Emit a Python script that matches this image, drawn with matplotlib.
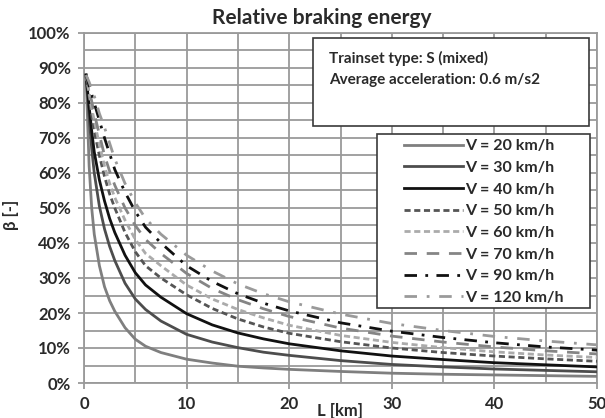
import matplotlib
matplotlib.use("Agg")
import matplotlib.pyplot as plt
from matplotlib.patches import Rectangle
from matplotlib.ticker import MultipleLocator, PercentFormatter

# ----------------------------------------------------------------------------------------------------------------------
# Data, beta in %
# ----------------------------------------------------------------------------------------------------------------------
distance_km = [0.2, 0.5, 0.75, 1, 1.5, 2, 2.5, 3, 4, 5, 6, 7.5, 10, 12.5, 15, 17.5, 20, 25, 30, 35, 40, 45, 50]

beta_v20 = [88, 62, 50, 42.5, 33.5, 27.5, 23.5, 20.5, 15.8, 12.5, 10.5, 8.7, 6.8, 5.7, 4.8, 4.3, 3.9,
            3.3, 2.8, 2.5, 2.3, 2.1, 1.9]
beta_v30 = [88, 76, 67, 60, 50.5, 44, 39, 35, 28.5, 24, 21, 17.7, 13.9, 11.7, 10.1, 8.8, 7.9,
            6.4, 5.3, 4.6, 4.0, 3.6, 3.2]
beta_v40 = [88, 79, 72, 66, 58, 52, 47, 43, 36.5, 31.5, 28, 24.5, 19.8, 16.6, 14.3, 12.6, 11.2,
            9.2, 7.7, 6.7, 5.8, 5.2, 4.6]
beta_v50 = [88, 82, 76.5, 72, 65, 59, 54, 50, 43, 37.5, 33.5, 30, 25.2, 21.3, 18.3, 16, 14.2,
            11.8, 10.0, 8.7, 7.7, 6.9, 6.2]
beta_v60 = [88, 83, 78.5, 75, 68, 62, 57, 53, 46.5, 41, 37, 33.5, 28, 24, 21, 18.6, 16.5,
            13.6, 11.6, 10.1, 8.9, 8.0, 7.3]
beta_v70 = [88, 84, 80.5, 77, 71, 65, 60.5, 56.5, 50, 45, 41, 37, 31.3, 27, 23.8, 21.2, 19,
            15.7, 13.4, 11.7, 10.3, 9.2, 8.3]
beta_v90 = [88, 85, 82.5, 80, 75, 70, 65.5, 61, 54.5, 49, 44.5, 40, 33.5, 29, 25.5, 22.8, 20.6,
            17.2, 14.8, 13, 11.5, 10.3, 9.4]
beta_v120 = [88, 86, 84, 82, 77, 73, 68.5, 64, 57, 51.5, 47, 42.5, 36.5, 32, 28.3, 25.5, 23.2,
             19.7, 17, 15, 13.3, 12, 10.9]

series_labels = ["V = 20 km/h", "V = 30 km/h", "V = 40 km/h", "V = 50 km/h",
                 "V = 60 km/h", "V = 70 km/h", "V = 90 km/h", "V = 120 km/h"]
series_values = [beta_v20, beta_v30, beta_v40, beta_v50, beta_v60, beta_v70, beta_v90, beta_v120]

x_ticks = [0, 10, 20, 30, 40, 50]
y_ticks = list(range(0, 101, 10))

# ----------------------------------------------------------------------------------------------------------------------
# Plot settings
# ----------------------------------------------------------------------------------------------------------------------
plt.rcParams["font.family"] = ["Lato", "DejaVu Sans"]
grid_color = "#9a9a9a"
text_color = "#2a2a2a"
styles = [
    dict(color="#7f7f7f", linestyle="-"),
    dict(color="#4d4d4d", linestyle="-"),
    dict(color="#111111", linestyle="-"),
    dict(color="#555555", linestyle=(0, (2.2, 1.3))),
    dict(color="#ababab", linestyle=(0, (2.2, 1.3))),
    dict(color="#858585", linestyle=(0, (4.5, 3.5))),
    dict(color="#111111", linestyle=(0, (4.5, 3, 1, 3))),
    dict(color="#9a9a9a", linestyle=(0, (4.5, 3.5, 1, 3.5))),
]

fig = plt.figure(figsize=(6.05, 4.18), dpi=100)
ax = fig.add_axes([84 / 605, 1 - 383 / 418, 513 / 605, 350 / 418])

for values, label, style in zip(series_values, series_labels, styles):
    ax.plot(distance_km, values, linewidth=2.0, label=label, zorder=3, **style)

ax.set_xlim(0, 50)
ax.set_ylim(0, 100)
ax.set_xticks(x_ticks)
ax.set_yticks(y_ticks)
ax.xaxis.set_minor_locator(MultipleLocator(5))
ax.yaxis.set_minor_locator(MultipleLocator(5))
ax.yaxis.set_major_formatter(PercentFormatter(decimals=0))
ax.grid(True, which="both", color=grid_color, linewidth=1.3, zorder=1)
ax.set_axisbelow(True)
for spine in ax.spines.values():
    spine.set_color(grid_color)
    spine.set_linewidth(1.3)
ax.tick_params(axis="both", which="major", length=4.5, width=1.3, color=grid_color,
               labelsize=12, labelcolor=text_color, pad=5)
ax.tick_params(axis="both", which="minor", length=0)
for lbl in ax.get_xticklabels() + ax.get_yticklabels():
    lbl.set_fontweight("bold")

fig.text(322 / 605, 1 - 18 / 418, "Relative braking energy", fontsize=15, fontweight="bold",
         color=text_color, ha="center", va="center")
fig.text(340 / 605, 1 - 411 / 418, "L [km]", fontsize=12, fontweight="bold", color=text_color,
         ha="center", va="center")
fig.text(11 / 605, 1 - 215 / 418, "β [-]", fontsize=12, fontweight="bold", color=text_color,
         ha="center", va="center", rotation=90)

# info box
ax.add_patch(Rectangle((0.446, 0.734), 0.538, 0.252, transform=ax.transAxes, facecolor="white",
                       edgecolor="#3a3a3a", linewidth=1.2, zorder=4))
ax.text(0.478, 0.928, "Trainset type: S (mixed)", transform=ax.transAxes, fontsize=11,
        fontweight="bold", color=text_color, va="center", zorder=5)
ax.text(0.478, 0.866, "Average acceleration: 0.6 m/s2", transform=ax.transAxes, fontsize=11,
        fontweight="bold", color=text_color, va="center", zorder=5)

# legend box
ax.add_patch(Rectangle((0.571, 0.214), 0.415, 0.498, transform=ax.transAxes, facecolor="white",
                       edgecolor="#3a3a3a", linewidth=1.2, zorder=4))
leg = ax.legend(loc="upper left", bbox_to_anchor=(0.624, 0.697), frameon=False,
                prop=dict(size=11.5, weight="bold"),
                handlelength=3.7, handletextpad=0.12, labelspacing=0.47, borderpad=0,
                borderaxespad=0)
leg.set_zorder(6)
for t in leg.get_texts():
    t.set_color(text_color)

fig.savefig("out.png", dpi=100)
